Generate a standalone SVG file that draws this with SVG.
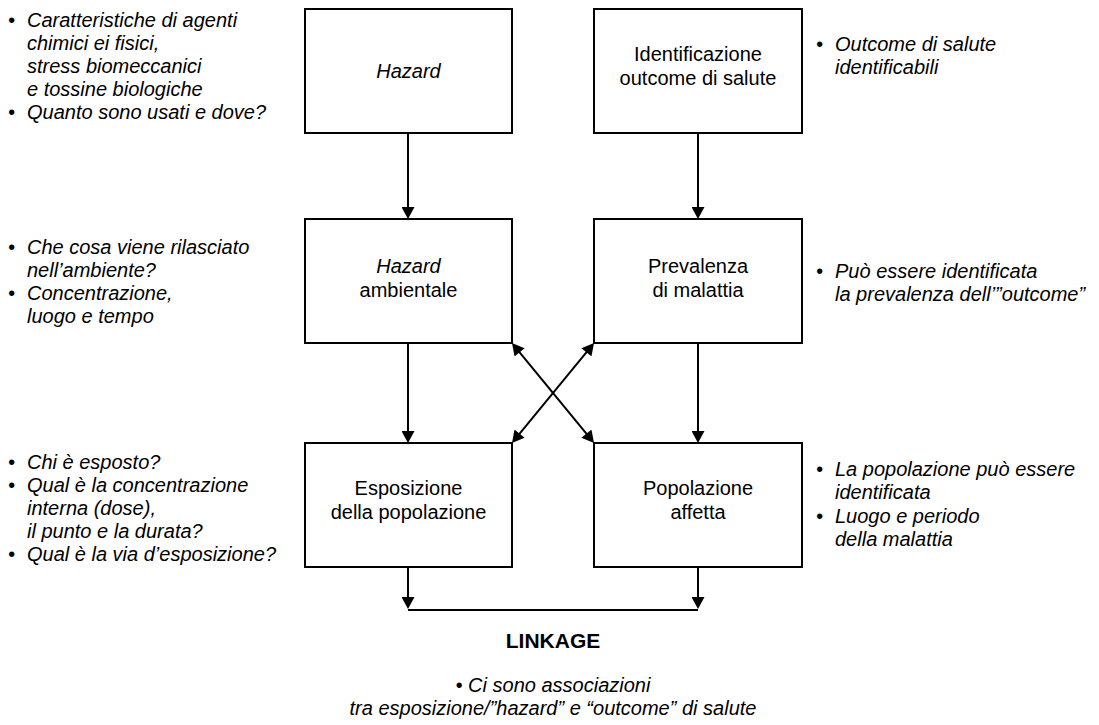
<svg xmlns="http://www.w3.org/2000/svg" width="1099" height="725" viewBox="0 0 1099 725">
  <style>
    .box { fill: #ffffff; stroke: #000000; stroke-width: 2; }
    .lbl { font-family: "Liberation Sans", Arial, sans-serif; font-size: 20px; fill: #000000; text-anchor: middle; }
    .note { font-family: "Liberation Sans", Arial, sans-serif; font-size: 20px; font-style: italic; fill: #000000; }
    .it { font-style: italic; }
    .edge { stroke: #000000; stroke-width: 2; fill: none; }
    .title { font-family: "Liberation Sans", Arial, sans-serif; font-size: 21px; font-weight: bold; fill: #000000; text-anchor: middle; }
  </style>
  <defs>
    <marker id="head" markerUnits="userSpaceOnUse" markerWidth="13" markerHeight="13" viewBox="0 0 12 13" refX="8" refY="6.5" orient="auto-start-reverse">
      <path d="M0,0 L12,6.5 L0,13 z" fill="#000000"/>
    </marker>
  </defs>

  <rect width="1099" height="725" fill="#ffffff"/>

  <!-- connectors -->
  <g id="connectors">
    <line class="edge" x1="408" y1="133" x2="408" y2="215" marker-end="url(#head)"/>
    <line class="edge" x1="698" y1="133" x2="698" y2="215" marker-end="url(#head)"/>
    <line class="edge" x1="408" y1="343" x2="408" y2="439" marker-end="url(#head)"/>
    <line class="edge" x1="698" y1="343" x2="698" y2="439" marker-end="url(#head)"/>
    <line class="edge" x1="514.5" y1="346.1" x2="591.5" y2="439.9" marker-start="url(#head)" marker-end="url(#head)"/>
    <line class="edge" x1="591.5" y1="346.1" x2="514.5" y2="439.9" marker-start="url(#head)" marker-end="url(#head)"/>
    <line class="edge" x1="408" y1="567" x2="408" y2="605" marker-end="url(#head)"/>
    <line class="edge" x1="698" y1="567" x2="698" y2="605" marker-end="url(#head)"/>
    <line class="edge" x1="408" y1="610" x2="698" y2="610"/>
  </g>

  <!-- boxes -->
  <g id="hazard">
    <rect class="box" x="305" y="9" width="207" height="124"/>
    <text class="lbl it" x="408.5" y="78">Hazard</text>
  </g>
  <g id="identificazione">
    <rect class="box" x="594" y="9" width="208" height="124"/>
    <text class="lbl" x="698" y="61">Identificazione</text>
    <text class="lbl" x="698" y="85">outcome di salute</text>
  </g>
  <g id="hazard-ambientale">
    <rect class="box" x="305" y="219" width="207" height="124"/>
    <text class="lbl it" x="408.5" y="273">Hazard</text>
    <text class="lbl" x="408.5" y="297">ambientale</text>
  </g>
  <g id="prevalenza">
    <rect class="box" x="594" y="219" width="208" height="124"/>
    <text class="lbl" x="698" y="273">Prevalenza</text>
    <text class="lbl" x="698" y="297">di malattia</text>
  </g>
  <g id="esposizione">
    <rect class="box" x="305" y="443" width="207" height="124"/>
    <text class="lbl" x="408.5" y="495">Esposizione</text>
    <text class="lbl" x="408.5" y="519">della popolazione</text>
  </g>
  <g id="popolazione-affetta">
    <rect class="box" x="594" y="443" width="208" height="124"/>
    <text class="lbl" x="698" y="495">Popolazione</text>
    <text class="lbl" x="698" y="519">affetta</text>
  </g>

  <!-- side notes, left -->
  <g id="note-hazard" class="note">
    <text x="8" y="27">•</text><text x="27" y="27">Caratteristiche di agenti</text>
    <text x="27" y="50">chimici ei fisici,</text>
    <text x="27" y="73">stress biomeccanici</text>
    <text x="27" y="96">e tossine biologiche</text>
    <text x="8" y="119">•</text><text x="27" y="119">Quanto sono usati e dove?</text>
  </g>
  <g id="note-ambientale" class="note">
    <text x="8" y="254">•</text><text x="27" y="254">Che cosa viene rilasciato</text>
    <text x="27" y="277">nell’ambiente?</text>
    <text x="8" y="300">•</text><text x="27" y="300">Concentrazione,</text>
    <text x="27" y="323">luogo e tempo</text>
  </g>
  <g id="note-esposizione" class="note">
    <text x="8" y="469">•</text><text x="27" y="469">Chi è esposto?</text>
    <text x="8" y="492">•</text><text x="27" y="492">Qual è la concentrazione</text>
    <text x="27" y="515">interna (dose),</text>
    <text x="27" y="538">il punto e la durata?</text>
    <text x="8" y="561">•</text><text x="27" y="561">Qual è la via d’esposizione?</text>
  </g>

  <!-- side notes, right -->
  <g id="note-outcome" class="note">
    <text x="816" y="51">•</text><text x="835" y="51">Outcome di salute</text>
    <text x="835" y="74">identificabili</text>
  </g>
  <g id="note-prevalenza" class="note">
    <text x="816" y="278">•</text><text x="835" y="278">Può essere identificata</text>
    <text x="835" y="301">la prevalenza dell’”outcome”</text>
  </g>
  <g id="note-popolazione" class="note">
    <text x="816" y="476">•</text><text x="835" y="476">La popolazione può essere</text>
    <text x="835" y="499">identificata</text>
    <text x="816" y="523">•</text><text x="835" y="523">Luogo e periodo</text>
    <text x="835" y="546">della malattia</text>
  </g>

  <!-- linkage -->
  <g id="linkage">
    <text class="title" x="553" y="648">LINKAGE</text>
    <text class="note" x="553" y="692" text-anchor="middle">• Ci sono associazioni</text>
    <text class="note" x="553" y="715" text-anchor="middle">tra esposizione/”hazard” e “outcome” di salute</text>
  </g>
</svg>
